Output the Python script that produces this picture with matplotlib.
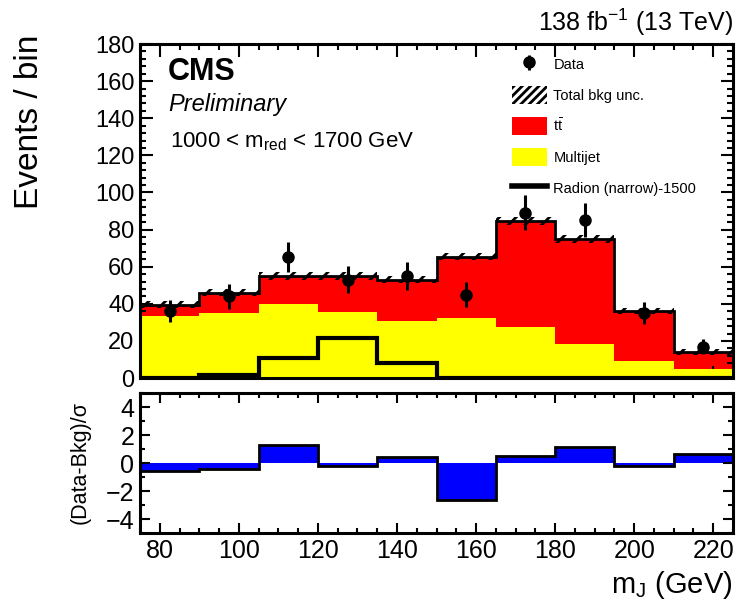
import numpy as np
import matplotlib
matplotlib.use("Agg")
import matplotlib.pyplot as plt
from matplotlib.ticker import MultipleLocator
from matplotlib.patches import Patch
from matplotlib.lines import Line2D

plt.rcParams["font.family"] = ["Liberation Sans", "DejaVu Sans"]
plt.rcParams["mathtext.fontset"] = "custom"
plt.rcParams["mathtext.rm"] = "Liberation Sans"
plt.rcParams["mathtext.it"] = "Liberation Sans:italic"
plt.rcParams["hatch.linewidth"] = 2.0
plt.rcParams["axes.linewidth"] = 2.2

# ---------------------------------------------------------------------------
# Inputs: m_J binning and yields, 1000 < m_red < 1700 GeV
# ---------------------------------------------------------------------------
bin_edges = [75, 90, 105, 120, 135, 150, 165, 180, 195, 210, 225]
multijet  = [33.5, 35.0, 40.0, 35.5, 31.0, 32.5, 27.5, 18.3, 9.2, 4.8]
ttbar     = [6.0, 11.0, 15.0, 19.5, 22.0, 33.0, 57.0, 56.7, 27.0, 9.2]
bkg_unc   = [2.0, 2.0, 2.0, 2.0, 2.0, 2.0, 2.2, 2.2, 1.8, 1.5]
data      = [36, 44, 65, 53, 55, 45, 89, 85, 35, 17]
radion    = [0.0, 1.5, 11.0, 21.5, 8.0, 0.0, 0.0, 0.0, 0.0, 0.0]
pulls     = [-0.53, -0.41, 1.32, -0.22, 0.43, -2.61, 0.50, 1.15, -0.22, 0.62]

RED, YELLOW, BLUE = "#ff0000", "#ffff00", "#0000ff"

edges = np.array(bin_edges, dtype=float)
centers = 0.5 * (edges[1:] + edges[:-1])
total = np.add(multijet, ttbar)
unc = np.array(bkg_unc)

fig = plt.figure(figsize=(7.37, 6.03), dpi=100)
ax = fig.add_axes([0.190, 0.373, 0.8046, 0.554])
ax2 = fig.add_axes([0.190, 0.116, 0.8046, 0.232])

# stacked backgrounds
ax.stairs(total, edges, fill=True, color=RED, zorder=1)
ax.stairs(multijet, edges, fill=True, color=YELLOW, zorder=2)
ax.stairs(total + unc, edges, baseline=total - unc, fill=True,
          facecolor="none", edgecolor="k", hatch="//", linewidth=0, zorder=3)
ax.stairs(total, edges, baseline=None, color="k", linewidth=2, zorder=4)
ax.stairs(radion, edges, baseline=None, color="k", linewidth=3, zorder=5)
h_data = ax.errorbar(centers, data, yerr=np.sqrt(data), fmt="o", color="k",
                     ms=8, elinewidth=2.2, capsize=0, zorder=6)

ax.set_xlim(75, 225)
ax.set_ylim(0, 180)
ax.set_yticks(np.arange(0, 181, 20))
ax.yaxis.set_minor_locator(MultipleLocator(4))
ax.xaxis.set_major_locator(MultipleLocator(20))
ax.xaxis.set_minor_locator(MultipleLocator(5))
ax.tick_params(which="both", direction="in", top=True, right=True, width=1.5)
ax.tick_params(which="major", length=9)
ax.tick_params(which="minor", length=4.5)
ax.tick_params(axis="y", labelsize=17, pad=4)
ax.tick_params(axis="x", labelbottom=False)

ax.text(0.047, 0.892, "CMS", transform=ax.transAxes, fontsize=22,
        fontweight="bold", va="baseline")
ax.text(0.047, 0.799, "Preliminary", transform=ax.transAxes, fontsize=17,
        style="italic", va="baseline")
ax.text(0.05, 0.692, r"1000 < m$_{\mathrm{red}}$ < 1700 GeV",
        transform=ax.transAxes, fontsize=16, va="baseline")

handles = [h_data,
           Patch(facecolor="none", edgecolor="k", hatch="////", linewidth=0),
           Patch(facecolor=RED),
           Patch(facecolor=YELLOW),
           Line2D([], [], color="k", linewidth=4)]
labels = ["Data", "Total bkg unc.", r"$\mathrm{t\bar{t}}$", "Multijet",
          "Radion (narrow)-1500"]
ax.legend(handles, labels, loc="upper left", bbox_to_anchor=(0.627, 0.966),
          frameon=False, fontsize=10.5, handlelength=2.4, handleheight=1.5,
          labelspacing=0.9, handletextpad=0.45, borderpad=0, borderaxespad=0)

# pull panel
ax2.stairs(pulls, edges, fill=True, color=BLUE, baseline=0)
ax2.stairs(pulls, edges, baseline=None, color="k", linewidth=2)
ax2.set_xlim(75, 225)
ax2.set_ylim(-5, 5)
ax2.set_yticks([-4, -2, 0, 2, 4])
ax2.yaxis.set_minor_locator(MultipleLocator(1))
ax2.xaxis.set_major_locator(MultipleLocator(20))
ax2.xaxis.set_minor_locator(MultipleLocator(5))
ax2.tick_params(which="both", direction="in", top=True, right=True, width=1.5)
ax2.tick_params(which="major", length=7)
ax2.tick_params(which="minor", length=3.5)
ax2.tick_params(axis="both", labelsize=18, pad=4)

fig.text(30 / 737, 1 - 35 / 603, "Events / bin", rotation=90, ha="center",
         va="top", fontsize=24)
fig.text(80 / 737, 1 - 463 / 603, "(Data-Bkg)/σ", rotation=90, ha="center",
         va="center", fontsize=15.5)
fig.text(733 / 737, 1 - 593 / 603, r"m$_{\mathrm{J}}$ (GeV)", ha="right",
         va="baseline", fontsize=21)
fig.text(733 / 737, 1 - 31 / 603, r"138 fb$^{\mathrm{-1}}$ (13 TeV)",
         ha="right", va="baseline", fontsize=18)

fig.savefig("out.png", dpi=100)
